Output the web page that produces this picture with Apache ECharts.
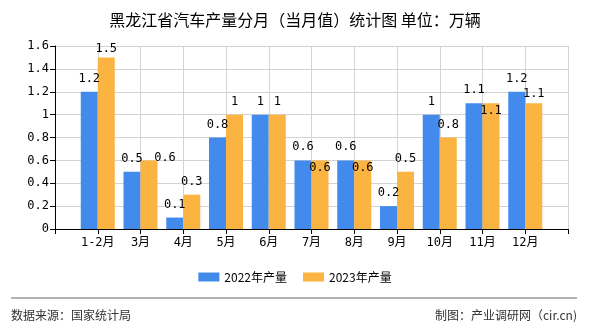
<!DOCTYPE html>
<html><head><meta charset="utf-8">
<script src="https://cdn.jsdelivr.net/npm/echarts@6/dist/echarts.min.js"></script>
<style>html,body{margin:0;padding:0;background:#fff}#c{width:590px;height:330px}</style>
</head><body><div id="c"></div>
<script>
const categories = ['1-2月','3月','4月','5月','6月','7月','8月','9月','10月','11月','12月'];
const prod2022 = [1.2,0.5,0.1,0.8,1,0.6,0.6,0.2,1,1.1,1.2];
const prod2023 = [1.5,0.6,0.3,1,1,0.6,0.6,0.5,0.8,1.1,1.1];
const seriesNames = ['2022年产量','2023年产量'];
const yMin = 0, yMax = 1.6, yStep = 0.2;
const titleText = '黑龙江省汽车产量分月（当月值）统计图 单位：万辆';
const sourceText = '数据来源：国家统计局';
const creditText = '制图：产业调研网（cir.cn)';

// label nudges (style only) for overlapping labels of the 2023 series
const shift2023 = {0:[0,4],1:[16,11],5:[0,21],6:[0,21],9:[0,21],10:[0,4]};

const axisCats = [''].concat(categories, ['']);
const monoFont = "'DejaVu Sans Mono','Noto Sans CJK SC',monospace";
function mk(vals, shifts){
  const out = ['-'];
  vals.forEach((v,i)=>{
    const s = shifts && shifts[i];
    out.push(s ? {value:v,label:{offset:s}} : v);
  });
  out.push('-');
  return out;
}
const chart = echarts.init(document.getElementById('c'));
chart.setOption({
  animation:false,
  title:{text:titleText,left:'center',top:7,textStyle:{fontSize:16,fontWeight:'normal',color:'#000',fontFamily:"'Noto Sans CJK SC'"}},
  grid:{left:55,right:22,top:46,bottom:101,containLabel:false},
  legend:{top:266,left:'center',itemWidth:21,itemHeight:9,itemGap:16,icon:'rect',
    textStyle:{fontSize:12,color:'#000',fontFamily:"'Noto Sans CJK SC'"},data:seriesNames},
  xAxis:{type:'category',data:axisCats,boundaryGap:false,
    axisLine:{lineStyle:{color:'#000',width:1}},
    axisTick:{show:true,length:5,lineStyle:{color:'#000'},interval:0},
    axisLabel:{interval:0,color:'#000',fontSize:12,fontFamily:monoFont,margin:8},
    splitLine:{show:true,lineStyle:{color:'#d3d3d3',width:1}}},
  yAxis:{type:'value',min:yMin,max:yMax,interval:yStep,
    axisLine:{show:true,lineStyle:{color:'#000'}},
    axisTick:{show:true,length:5,lineStyle:{color:'#000'}},
    axisLabel:{color:'#000',fontSize:12,fontFamily:monoFont,margin:6},
    splitLine:{lineStyle:{color:'#d3d3d3',width:1}}},
  series:[
    {name:seriesNames[0],type:'bar',data:mk(prod2022),barWidth:17,barGap:'0%',
     itemStyle:{color:'#428BEC'},
     label:{show:true,position:'top',distance:7,color:'#000',fontSize:12,fontFamily:monoFont}},
    {name:seriesNames[1],type:'bar',data:mk(prod2023,shift2023),barWidth:17,barGap:'0%',
     itemStyle:{color:'#FBB342'},
     label:{show:true,position:'top',distance:7,color:'#000',fontSize:12,fontFamily:monoFont}}
  ],
  graphic:[
    {type:'line',shape:{x1:11,y1:298,x2:577,y2:298},style:{stroke:'#999',lineWidth:1.5}},
    {type:'text',left:11,top:309,style:{text:sourceText,fontSize:12,fill:'#333',fontFamily:"'Noto Sans CJK SC'"}},
    {type:'text',right:13,top:309,style:{text:creditText,fontSize:12,fill:'#333',fontFamily:"'Noto Sans CJK SC'"}}
  ]
});
</script></body></html>
